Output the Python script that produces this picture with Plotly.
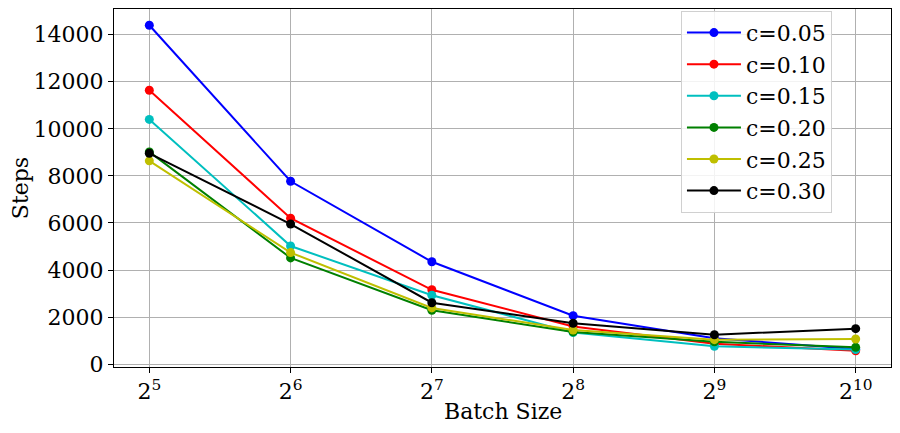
import plotly.graph_objects as go

batch_sizes = [32, 64, 128, 256, 512, 1024]
tick_labels = ["2<sup>5</sup>", "2<sup>6</sup>", "2<sup>7</sup>", "2<sup>8</sup>", "2<sup>9</sup>", "2<sup>10</sup>"]
series_names = ["c=0.05", "c=0.10", "c=0.15", "c=0.20", "c=0.25", "c=0.30"]
steps_c005 = [14400, 7770, 4350, 2060, 1100, 640]
steps_c010 = [11640, 6200, 3160, 1600, 870, 570]
steps_c015 = [10400, 5020, 2930, 1340, 760, 620]
steps_c020 = [9020, 4515, 2290, 1370, 950, 715]
steps_c025 = [8640, 4740, 2390, 1450, 1040, 1070]
steps_c030 = [8960, 5955, 2610, 1740, 1250, 1508]
y_ticks = [0, 2000, 4000, 6000, 8000, 10000, 12000, 14000]

colors = ["#0000ff", "#ff0000", "#00bfbf", "#008000", "#bfbf00", "#000000"]
all_series = [steps_c005, steps_c010, steps_c015, steps_c020, steps_c025, steps_c030]

fig = go.Figure()
for name, vals, col in zip(series_names, all_series, colors):
    fig.add_trace(go.Scatter(
        x=batch_sizes, y=vals, name=name, mode="lines+markers",
        line=dict(color=col, width=2), marker=dict(color=col, size=9),
    ))

font_family = "DejaVu Serif"
fig.update_layout(
    width=900, height=433,
    margin=dict(l=106, r=17, t=1, b=74),
    paper_bgcolor="white", plot_bgcolor="white",
    font=dict(family=font_family, size=22, color="black"),
    showlegend=True,
    legend=dict(
        x=0.924, y=0.995, xanchor="right", yanchor="top",
        bgcolor="rgba(255,255,255,0.85)", bordercolor="#d0d0d0", borderwidth=1,
        font=dict(family=font_family, size=22),
        itemwidth=54,
    ),
    annotations=[dict(
        text="Batch Size", xref="paper", yref="paper", x=0.5, y=0,
        xanchor="center", yanchor="middle", yshift=-44, showarrow=False,
        font=dict(family=font_family, size=22, color="black"),
    )],
)
fig.update_xaxes(
    type="log",
    range=[4.75 * 0.30103, 10.25 * 0.30103],
    tickvals=batch_sizes, ticktext=tick_labels,
    tickfont=dict(size=22),
    showgrid=True, gridcolor="#b0b0b0", gridwidth=1,
    showline=True, linecolor="black", linewidth=1, mirror=True,
    ticks="outside", ticklen=5, tickcolor="black",
    zeroline=False, automargin=False,
)
fig.update_yaxes(
    range=[-121, 15091],
    tickvals=y_ticks, ticktext=[str(v) for v in y_ticks],
    tickfont=dict(size=22),
    showgrid=True, gridcolor="#b0b0b0", gridwidth=1,
    showline=True, linecolor="black", linewidth=1, mirror=True,
    ticks="outside", ticklen=5, tickcolor="black",
    title=dict(text="Steps", standoff=6, font=dict(size=22)),
    zeroline=False, automargin=False,
)

fig.write_html("out.html")
